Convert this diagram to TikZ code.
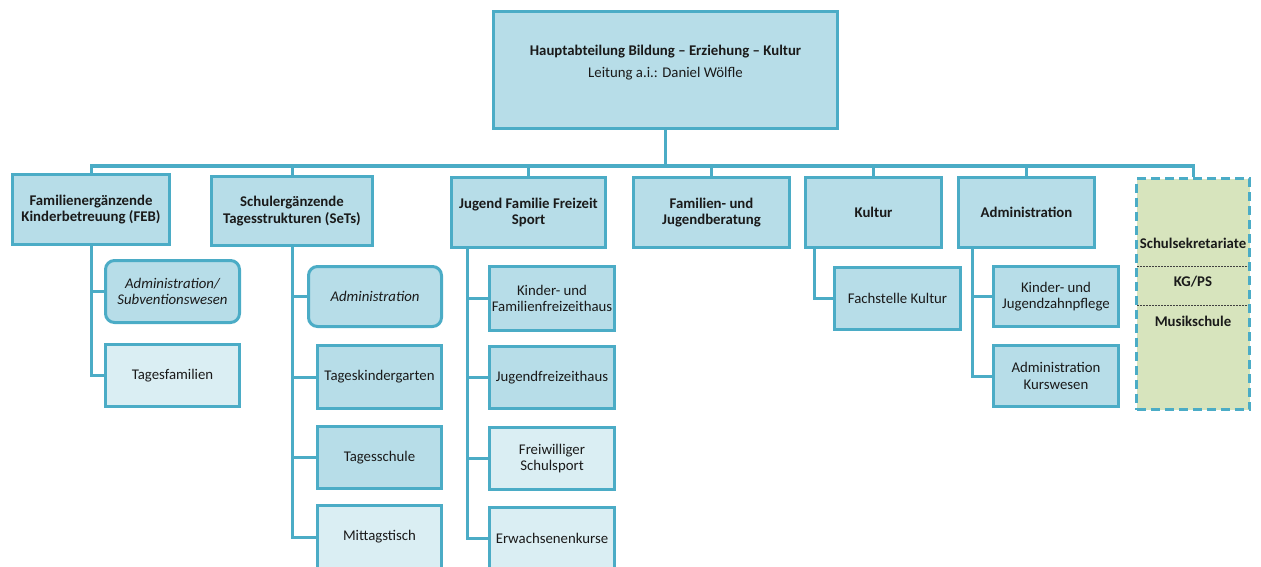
\documentclass[tikz,border=0pt]{standalone}
\usepackage{fontspec}
\setmainfont{Carlito}
\definecolor{tealline}{HTML}{4BACC6}
\definecolor{boxfill}{HTML}{B7DDE8}
\definecolor{lightfill}{HTML}{DAEEF3}
\definecolor{greenfill}{HTML}{D7E4BD}
\definecolor{txt}{HTML}{1A1A1A}
\begin{document}
\begin{tikzpicture}[x=1pt,y=-1pt,
  font=\fontsize{14.8}{16.5}\selectfont, text=txt,
  box/.style={draw=tealline, line width=3pt, fill=boxfill, align=center, inner sep=1pt},
  lightbox/.style={box, fill=lightfill},
  roundbox/.style={box, rounded corners=9pt, font=\fontsize{14.8}{16.5}\selectfont\itshape},
  headbox/.style={box, font=\fontsize{14.8}{16.5}\selectfont\bfseries},
  greenbox/.style={draw=tealline, line width=3pt, fill=greenfill, dash pattern=on 9pt off 5pt},
  conn/.style={draw=tealline, line width=3pt},
  sepline/.style={draw=black!75, line width=0.7pt, dash pattern=on 2pt off 1pt},
  greentext/.style={font=\fontsize{14.8}{16.5}\selectfont\bfseries, inner sep=0pt}
]
\useasboundingbox (0,0) rectangle (1261,567);
\begin{scope}
\clip (0,0) rectangle (1261,567);
% top
\node[box, minimum width=344pt, minimum height=117pt] (top) at (665.5,70) {};
\node[align=center, inner sep=0pt, font=\fontsize{14.8}{22}\selectfont] (toptitle) at (665.5,63) {\textbf{Hauptabteilung Bildung – Erziehung – Kultur}\\Leitung a.i.: Daniel Wölfle};
% level 2
\node[headbox, minimum width=157pt, minimum height=70pt] (feb) at (91,209.5) {Familienergänzende\\Kinderbetreuung (FEB)};
\node[headbox, minimum width=161pt, minimum height=69pt] (sets) at (292,211) {Schulergänzende\\Tagesstrukturen (SeTs)};
\node[headbox, minimum width=154pt, minimum height=70pt] (jug) at (528.5,212.5) {Jugend Familie Freizeit\\Sport};
\node[headbox, minimum width=156pt, minimum height=70pt] (fam) at (711.5,212.5) {Familien- und\\Jugendberatung};
\node[headbox, minimum width=136pt, minimum height=70pt] (kul) at (873.5,212.5) {Kultur};
\node[headbox, minimum width=136pt, minimum height=70pt] (adm) at (1026.5,212.5) {Administration};
\node[greenbox, minimum width=113pt, minimum height=231pt] (grn) at (1193,294) {};
\node[greentext] (g1) at (1193,243) {Schulsekretariate};
\node[greentext] (g2) at (1193,282) {KG/PS};
\node[greentext] (g3) at (1193,321) {Musikschule};
\draw[sepline] (1137,266) -- (1248,266);
\draw[sepline] (1137,305) -- (1248,305);
% FEB column
\node[roundbox, minimum width=134pt, minimum height=62pt] (a1) at (172.5,291.5) {Administration/\\Subventionswesen};
\node[lightbox, minimum width=134pt, minimum height=62pt] (a2) at (172.5,375.5) {Tagesfamilien};
% SeTs column
\node[roundbox, minimum width=133pt, minimum height=60pt] (b1) at (375,296.5) {Administration};
\node[box, minimum width=124pt, minimum height=63pt] (b2) at (379.5,377) {Tageskindergarten};
\node[box, minimum width=124pt, minimum height=62pt] (b3) at (379.5,457.5) {Tagesschule};
\node[lightbox, minimum width=124pt, minimum height=63pt] (b4) at (379.5,537) {Mittagstisch};
% Jugend column
\node[box, minimum width=125pt, minimum height=64pt] (c1) at (552,298.5) {Kinder- und\\Familienfreizeithaus};
\node[box, minimum width=125pt, minimum height=62pt] (c2) at (552,377.5) {Jugendfreizeithaus};
\node[lightbox, minimum width=125pt, minimum height=62pt] (c3) at (552,458.5) {Freiwilliger\\Schulsport};
\node[lightbox, minimum width=125pt, minimum height=62pt] (c4) at (552,538.5) {Erwachsenenkurse};
% Kultur column
\node[box, minimum width=126pt, minimum height=62pt] (d1) at (897.5,298.5) {Fachstelle Kultur};
% Administration column
\node[box, minimum width=125pt, minimum height=60pt] (e1) at (1056,296.5) {Kinder- und\\Jugendzahnpflege};
\node[box, minimum width=125pt, minimum height=61pt] (e2) at (1056,376) {Administration\\Kurswesen};
% connectors: bus
\coordinate (bus) at (0,166);
\foreach \n in {feb,sets,jug,fam,kul,adm,grn}{
  \draw[conn] (top.south) -- (top.south |- bus) -| (\n.north);
}
% spines
\coordinate (sa) at (91,0);
\coordinate (sb) at (292,0);
\coordinate (sc) at (467,0);
\coordinate (sd) at (814,0);
\coordinate (se) at (972,0);
\foreach \n in {a1,a2}{\draw[conn] (sa |- feb.south) |- (\n.west);}
\foreach \n in {b1,b2,b3,b4}{\draw[conn] (sb |- sets.south) |- (\n.west);}
\foreach \n in {c1,c2,c3,c4}{\draw[conn] (sc |- jug.south) |- (\n.west);}
\draw[conn] (sd |- kul.south) |- (d1.west);
\foreach \n in {e1,e2}{\draw[conn] (se |- adm.south) |- (\n.west);}
\end{scope}
\end{tikzpicture}
\end{document}
